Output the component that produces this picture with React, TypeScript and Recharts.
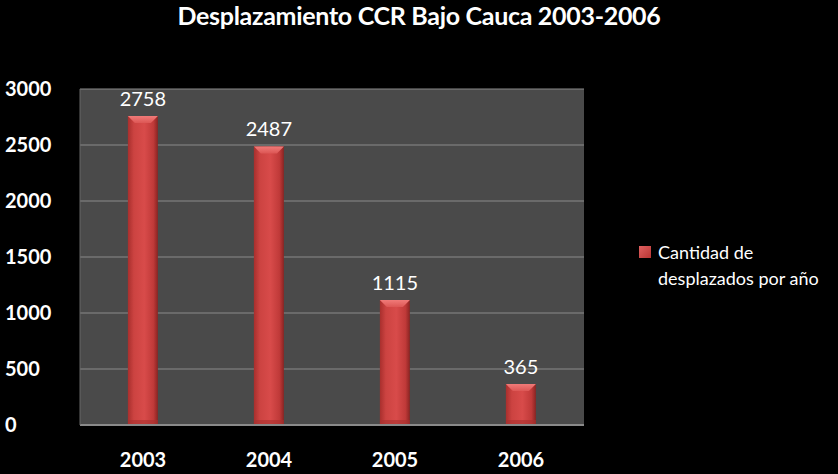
import React from 'react';
import { Bar, BarChart, CartesianGrid, LabelList, XAxis, YAxis } from 'recharts';

const years = ['2003', '2004', '2005', '2006'];
const desplazados = [2758, 2487, 1115, 365];
const yTicks = [0, 500, 1000, 1500, 2000, 2500, 3000];
const seriesName = ['Cantidad de', 'desplazados por año'];

const data = years.map((year, i) => ({ year, value: desplazados[i] }));

const FONT = 'Lato, "Open Sans", sans-serif';

function CylinderBar(props: any) {
  const { x, y, width, height } = props;
  if (!height || height <= 0) return null;
  const bevel = Math.min(7, height / 2);
  return (
    <g>
      <rect x={x} y={y} width={width} height={height} fill="url(#barFill)" />
      <polygon
        points={`${x},${y} ${x + width},${y} ${x + width - bevel},${y + bevel} ${x + bevel},${y + bevel}`}
        fill="url(#barTop)"
      />
      <rect x={x} y={y + height - 5} width={width} height={5} fill="#a8302f" opacity={0.6} />
    </g>
  );
}

function YTick(props: any) {
  const { y, payload } = props;
  return (
    <text x={5} y={y} dy={7} fill="#ffffff" fontFamily={FONT} fontWeight={700} fontSize={20} textAnchor="start">
      {payload.value}
    </text>
  );
}

function XTick(props: any) {
  const { x, payload } = props;
  return (
    <text x={x} y={467} fill="#ffffff" fontFamily={FONT} fontWeight={700} fontSize={20} textAnchor="middle">
      {payload.value}
    </text>
  );
}

export default function App() {
  return (
    <div style={{ position: 'absolute', left: 0, top: 0, width: 838, height: 474, background: '#000000', overflow: 'hidden' }}>
      <div
        style={{
          position: 'absolute',
          left: 0,
          top: 0,
          width: 838,
          textAlign: 'center',
          fontFamily: FONT,
          fontWeight: 700,
          fontSize: 25,
          letterSpacing: -0.3,
          color: '#ffffff',
        }}
      >
        Desplazamiento CCR Bajo Cauca 2003-2006
      </div>
      <div
        style={{
          position: 'absolute',
          left: 639,
          top: 239,
          display: 'flex',
          alignItems: 'flex-start',
          fontFamily: FONT,
          color: '#ffffff',
          fontSize: 18,
          lineHeight: '26px',
        }}
      >
        <div
          style={{
            width: 12,
            height: 12,
            marginTop: 7,
            marginRight: 7,
            background: 'linear-gradient(135deg, #e06060 0%, #b83533 100%)',
          }}
        />
        <div>
          {seriesName[0]}
          <br />
          {seriesName[1]}
        </div>
      </div>
      <BarChart
        width={838}
        height={474}
        data={data}
        margin={{ top: 89, right: 254, bottom: 0, left: 0 }}
        barCategoryGap="38%"
        style={{ position: 'absolute', left: 0, top: 0 }}
      >
        <defs>
          <linearGradient id="barFill" x1="0" y1="0" x2="1" y2="0">
            <stop offset="0%" stopColor="#a82f2d" />
            <stop offset="20%" stopColor="#cc4341" />
            <stop offset="55%" stopColor="#d84b4a" />
            <stop offset="85%" stopColor="#c03a39" />
            <stop offset="100%" stopColor="#8a2422" />
          </linearGradient>
          <linearGradient id="barTop" x1="0" y1="0" x2="0" y2="1">
            <stop offset="0%" stopColor="#f07a78" />
            <stop offset="100%" stopColor="#dc5654" />
          </linearGradient>
        </defs>
        <CartesianGrid fill="#4a4a4a" stroke="#8a8a8a" vertical={false} strokeWidth={1} />
        <XAxis
          dataKey="year"
          height={49}
          tick={<XTick />}
          tickLine={false}
          axisLine={{ stroke: '#8a8a8a', strokeWidth: 2 }}
        />
        <YAxis
          width={80}
          domain={[0, 3000]}
          ticks={yTicks}
          tick={<YTick />}
          tickLine={false}
          axisLine={{ stroke: '#666666' }}
        />
        <YAxis
          yAxisId="right"
          orientation="right"
          width={0}
          domain={[0, 3000]}
          tick={false}
          tickLine={false}
          axisLine={{ stroke: '#7a7a7a', strokeWidth: 2 }}
        />
        <Bar dataKey="value" name={seriesName.join(' ')} shape={<CylinderBar />} isAnimationActive={false}>
          <LabelList dataKey="value" position="top" offset={10} fill="#ffffff" fontFamily={FONT} fontSize={20} />
        </Bar>
      </BarChart>
    </div>
  );
}
